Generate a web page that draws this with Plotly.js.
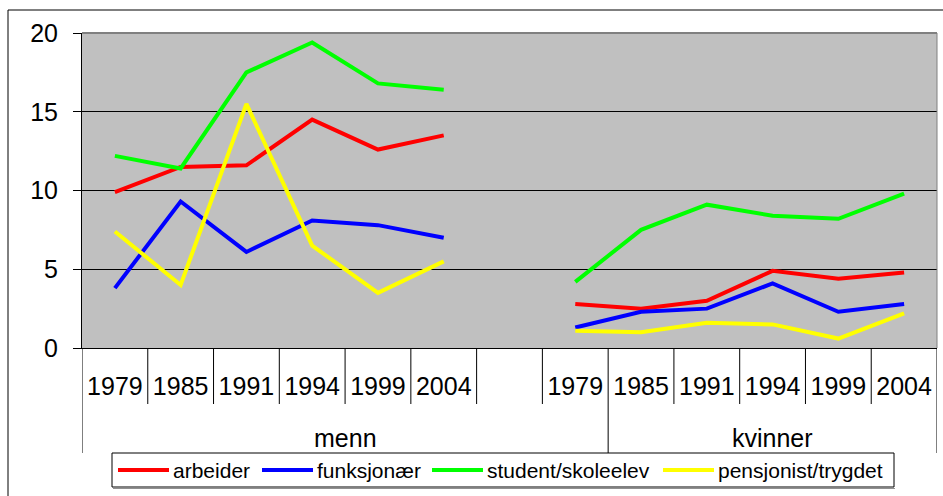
<!DOCTYPE html>
<html>
<head>
<meta charset="utf-8">
<script src="https://cdn.plot.ly/plotly-3.0.1.min.js"></script>
<style>html,body{margin:0;padding:0;background:#fff;}#chart{width:943px;height:496px;}</style>
</head>
<body>
<div id="chart"></div>
<script>
// ---- data ----
var categories = ['1979','1985','1991','1994','1999','2004','','1979','1985','1991','1994','1999','2004'];
var groupNames = ['menn', 'kvinner'];
var groupSpans = [8, 5];
var seriesNames = ['arbeider', 'funksjonær', 'student/skoleelev', 'pensjonist/trygdet'];
var arbeider    = [9.9, 11.5, 11.6, 14.5, 12.6, 13.5, null, 2.8, 2.5, 3.0, 4.9, 4.4, 4.8];
var funksjonaer = [3.8, 9.3, 6.1, 8.1, 7.8, 7.0, null, 1.3, 2.3, 2.5, 4.1, 2.3, 2.8];
var student     = [12.2, 11.4, 17.5, 19.4, 16.8, 16.4, null, 4.2, 7.5, 9.1, 8.4, 8.2, 9.8];
var pensjonist  = [7.4, 4.0, 15.5, 6.5, 3.5, 5.5, null, 1.1, 1.0, 1.6, 1.5, 0.6, 2.2];
var colors = ['#ff0000', '#0000ff', '#00ff00', '#ffff00'];

// ---- layout geometry (pixels) ----
var W = 943, H = 496;
var M = {l: 82, r: 6, t: 33, b: 148};
var plotW = W - M.l - M.r, plotH = H - M.t - M.b;
function px2x(px) { return (px - M.l) / plotW; }
function px2y(py) { return (H - M.b - py) / plotH; }

var idx = categories.map(function (_, i) { return i; });
var allSeries = [arbeider, funksjonaer, student, pensjonist];
var traces = allSeries.map(function (vals, k) {
  return {
    type: 'scatter', mode: 'lines', x: idx, y: vals, name: seriesNames[k],
    connectgaps: false, showlegend: false,
    line: {color: colors[k], width: 4}
  };
});

var FONT = 'Liberation Sans, Arial, sans-serif';
var n = categories.length;
var shapes = [];
var annotations = [];
// category / group boundaries
var bounds = [-0.5];
var acc = -0.5;
groupSpans.forEach(function (s) { acc += s; bounds.push(acc); });
for (var b = 0; b < n + 1; b++) {
  var xb = b - 0.5;
  var isGroup = bounds.indexOf(xb) >= 0;
  shapes.push({type: 'line', xref: 'x', yref: 'paper', x0: xb, x1: xb, y0: 0,
    y1: isGroup ? px2y(453) : px2y(404), line: {color: '#000', width: 1}});
}
// plot area top/right border
shapes.push({type: 'line', xref: 'paper', yref: 'paper', x0: 0, x1: 1, y0: 1, y1: 1, line: {color: '#808080', width: 2}});
shapes.push({type: 'line', xref: 'paper', yref: 'paper', x0: 1, x1: 1, y0: 0, y1: 1, line: {color: '#808080', width: 1}});
// outer chart border
shapes.push({type: 'rect', xref: 'paper', yref: 'paper', x0: px2x(8), x1: px2x(1000), y0: px2y(560), y1: px2y(10), line: {color: '#000', width: 1}, fillcolor: 'rgba(0,0,0,0)'});

// group labels
var start = -0.5;
groupSpans.forEach(function (s, g) {
  annotations.push({xref: 'x', yref: 'paper', x: start + s / 2, y: px2y(438), text: groupNames[g],
    showarrow: false, xanchor: 'center', yanchor: 'middle', font: {family: FONT, size: 25, color: '#000'}});
  start += s;
});

// legend (box, line samples, labels)
var legLineStart = [118, 262, 432, 663];
var legLineLen = 51, legY = 470;
shapes.push({type: 'rect', xref: 'paper', yref: 'paper', x0: px2x(112), x1: px2x(894), y0: px2y(487), y1: px2y(453),
  line: {color: '#000', width: 1}, fillcolor: '#ffffff'});
shapes.push({type: 'line', xref: 'paper', yref: 'paper', x0: px2x(113), x1: px2x(895), y0: px2y(488.5), y1: px2y(488.5),
  line: {color: '#909090', width: 1}});
seriesNames.forEach(function (nm, k) {
  shapes.push({type: 'line', xref: 'paper', yref: 'paper', x0: px2x(legLineStart[k]), x1: px2x(legLineStart[k] + legLineLen),
    y0: px2y(legY), y1: px2y(legY), line: {color: colors[k], width: 4}});
  annotations.push({xref: 'paper', yref: 'paper', x: px2x(legLineStart[k] + legLineLen + 2), y: px2y(legY), text: nm,
    showarrow: false, xanchor: 'left', yanchor: 'middle', font: {family: FONT, size: 21, color: '#000'}});
});

var layout = {
  width: W, height: H,
  margin: M,
  paper_bgcolor: '#ffffff',
  plot_bgcolor: '#c0c0c0',
  font: {family: FONT, color: '#000'},
  showlegend: false,
  xaxis: {
    range: [-0.5, n - 0.5], tickmode: 'array', tickvals: idx, ticktext: categories,
    showgrid: false, zeroline: false, showline: true, linecolor: '#000', linewidth: 1,
    ticks: '', ticklabelstandoff: 16,
    tickfont: {family: FONT, size: 25, color: '#000'}, fixedrange: true
  },
  yaxis: {
    range: [0, 20], dtick: 5, tick0: 0, showgrid: true, gridcolor: '#000', gridwidth: 1,
    zeroline: false, showline: true, linecolor: '#000', linewidth: 1,
    ticks: 'outside', ticklen: 8, tickcolor: '#000', ticklabelstandoff: 10,
    tickfont: {family: FONT, size: 25, color: '#000'}, fixedrange: true
  },
  shapes: shapes,
  annotations: annotations
};

Plotly.newPlot('chart', traces, layout, {displayModeBar: false, staticPlot: true});
</script>
</body>
</html>
